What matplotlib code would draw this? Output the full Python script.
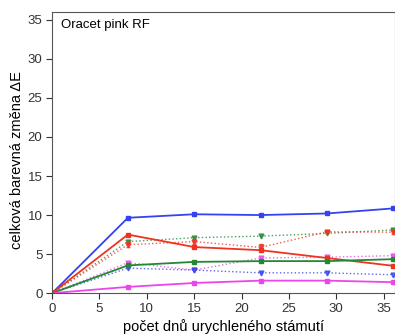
import matplotlib
matplotlib.use("Agg")
import matplotlib.pyplot as plt

plt.rcParams['font.family'] = ['Liberation Sans', 'DejaVu Sans']

# ── Data ──────────────────────────────────────────────
days = [0, 8, 15, 22, 29, 36]

blue_solid    = [0, 9.65, 10.1, 10.0, 10.2, 10.85]
red_solid     = [0, 7.5, 5.9, 5.5, 4.5, 3.5]
green_solid   = [0, 3.55, 4.0, 4.1, 4.1, 4.35]
magenta_solid = [0, 0.8, 1.3, 1.6, 1.6, 1.4]

green_dot   = [0, 6.6, 7.1, 7.3, 7.65, 8.1]
red_dot     = [0, 6.2, 6.6, 5.85, 7.85, 7.8]
magenta_dot = [0, 3.9, 2.95, 4.5, 4.6, 4.8]
blue_dot    = [0, 3.2, 2.95, 2.6, 2.6, 2.35]

red_dot_err = [0, 0.3, 0.3, 0.4, 0.2, 0.2]

BLUE, RED, GREEN, MAG = "#3344ee", "#ee3322", "#228833", "#ee44ee"

fig = plt.figure(figsize=(3.95, 3.35), dpi=100)
ax = fig.add_axes([0.132, 0.125, 0.868, 0.839])

# dotted series
for y, c in [(green_dot, GREEN), (magenta_dot, MAG), (blue_dot, BLUE)]:
    ax.plot(days, y, ls=":", color=c, lw=1.0, alpha=0.8,
            marker="v", ms=3.5)
ax.errorbar(days, red_dot, yerr=red_dot_err, ls=":", color=RED, lw=1.0,
            alpha=0.8, marker="v", ms=3.5, elinewidth=0.8, capsize=1.5)

# solid series
for y, c in [(blue_solid, BLUE), (red_solid, RED),
             (green_solid, GREEN), (magenta_solid, MAG)]:
    ax.plot(days, y, ls="-", color=c, lw=1.3, marker="s", ms=2.5)

ax.set_xlim(0, 36.2)
ax.set_ylim(0, 36)
ax.set_xticks(range(0, 36, 5))
ax.set_yticks(range(0, 36, 5))
ax.tick_params(direction="out", length=4, width=0.8, labelsize=9.5,
               colors="#333333", pad=3)
for s in ["left", "bottom", "top", "right"]:
    ax.spines[s].set_color("#555555")
    ax.spines[s].set_linewidth(0.8)

ax.set_xlabel("počet dnů urychleného stámutí", fontsize=10.5, va="center")
ax.xaxis.set_label_coords(0.5, -0.117)
ax.set_ylabel("celková barevná změna ΔE", fontsize=10.5, va="center")
ax.yaxis.set_label_coords(-0.102, 0.473)
ax.text(0.025, 0.975, "Oracet pink RF", transform=ax.transAxes,
        fontsize=9.5, va="top", ha="left")

fig.savefig("out.png", dpi=100)
